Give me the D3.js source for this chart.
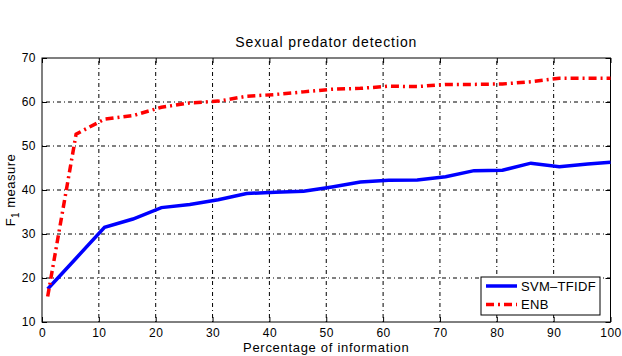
<!DOCTYPE html>
<html lang="en">
<head>
    <meta charset="UTF-8">
    <title>Sexual predator detection</title>
    <style>
        body {
            margin: 0;
            padding: 0;
            background-color: #ffffff;
            font-family: "Liberation Sans", Arial, sans-serif;
        }
        .grid line {
            stroke: #000;
            stroke-width: 1px;
            stroke-dasharray: 1, 3, 4, 3;
        }
    </style>
</head>
<body>
    <div id="chart"></div>

    <script src="https://d3js.org/d3.v7.min.js"></script>
    <script>
        // Data
        const percentages = [1, 6, 11, 16, 21, 26, 31, 36, 41, 46, 51, 56, 61, 66, 71, 76, 81, 86, 91, 96, 100];
        const svmTfidf = [17.5, 24.5, 31.5, 33.4, 36.0, 36.7, 37.8, 39.2, 39.5, 39.7, 40.7, 41.8, 42.2, 42.3, 43.0, 44.4, 44.5, 46.1, 45.3, 45.9, 46.3];
        const enb = [15.8, 52.7, 56.1, 56.9, 58.8, 59.8, 60.2, 61.3, 61.7, 62.3, 62.9, 63.1, 63.6, 63.5, 64.0, 64.0, 64.1, 64.6, 65.4, 65.4, 65.4];
        const xTicks = [0, 10, 20, 30, 40, 50, 60, 70, 80, 90, 100];
        const yTicks = [10, 20, 30, 40, 50, 60, 70];
        const seriesNames = ["SVM\u2013TFIDF", "ENB"];

        const width = 622;
        const height = 356;
        const margin = { top: 58, right: 11.5, bottom: 34, left: 42 };

        const svg = d3.select("#chart")
            .append("svg")
            .attr("width", width)
            .attr("height", height);

        const x = d3.scaleLinear().domain([0, 100]).range([margin.left, width - margin.right]);
        const y = d3.scaleLinear().domain([10, 70]).range([height - margin.bottom, margin.top]);

        // grid
        const grid = svg.append("g").attr("class", "grid");
        grid.selectAll(".vg")
            .data(xTicks.slice(1, -1))
            .enter()
            .append("line")
            .attr("x1", d => x(d)).attr("x2", d => x(d))
            .attr("y1", y(10)).attr("y2", y(70));
        grid.selectAll(".hg")
            .data(yTicks.slice(1, -1))
            .enter()
            .append("line")
            .attr("x1", x(0)).attr("x2", x(100))
            .attr("y1", d => y(d)).attr("y2", d => y(d));

        // axes (Matlab style: ticks inside, box on)
        const tickLen = 5;
        svg.append("g")
            .attr("transform", `translate(0,${y(10)})`)
            .call(d3.axisBottom(x).tickValues(xTicks).tickSizeInner(-tickLen).tickSizeOuter(0).tickPadding(6))
            .call(g => g.select(".domain").remove());
        svg.append("g")
            .attr("transform", `translate(0,${y(70)})`)
            .call(d3.axisTop(x).tickValues(xTicks).tickSizeInner(-tickLen).tickSizeOuter(0).tickFormat(""))
            .call(g => g.select(".domain").remove());
        svg.append("g")
            .attr("transform", `translate(${x(0)},0)`)
            .call(d3.axisLeft(y).tickValues(yTicks).tickSizeInner(-tickLen).tickSizeOuter(0).tickPadding(6))
            .call(g => g.select(".domain").remove());
        svg.append("g")
            .attr("transform", `translate(${x(100)},0)`)
            .call(d3.axisRight(y).tickValues(yTicks).tickSizeInner(-tickLen).tickSizeOuter(0).tickFormat(""))
            .call(g => g.select(".domain").remove());

        svg.selectAll(".tick text")
            .attr("font-size", 12)
            .attr("font-family", "Liberation Sans, Arial, sans-serif")
            .attr("letter-spacing", 0.5)
            .attr("fill", "#000");
        svg.selectAll(".tick line").attr("stroke", "#000");

        svg.append("rect")
            .attr("x", x(0)).attr("y", y(70))
            .attr("width", x(100) - x(0)).attr("height", y(10) - y(70))
            .attr("fill", "none").attr("stroke", "#000").attr("stroke-width", 1);

        // lines
        const line = d3.line()
            .x((d, i) => x(percentages[i]))
            .y(d => y(d));

        svg.append("path")
            .datum(svmTfidf)
            .attr("d", line)
            .attr("fill", "none")
            .attr("stroke", "#0000ff")
            .attr("stroke-width", 3.5);

        svg.append("path")
            .datum(enb)
            .attr("d", line)
            .attr("fill", "none")
            .attr("stroke", "#ff0000")
            .attr("stroke-width", 3.5)
            .attr("stroke-dasharray", "8,4,2,4");

        // title and labels
        svg.append("text")
            .attr("x", (x(0) + x(100)) / 2)
            .attr("y", 47)
            .attr("text-anchor", "middle")
            .attr("font-size", 14)
            .attr("letter-spacing", 0.9)
            .text("Sexual predator detection");

        svg.append("text")
            .attr("x", (x(0) + x(100)) / 2)
            .attr("y", 352)
            .attr("text-anchor", "middle")
            .attr("font-size", 13)
            .attr("letter-spacing", 0.7)
            .text("Percentage of information");

        const yl = svg.append("text")
            .attr("transform", `translate(15,${(y(10) + y(70)) / 2}) rotate(-90)`)
            .attr("text-anchor", "middle")
            .attr("font-size", 13)
            .attr("letter-spacing", 0.5);
        yl.append("tspan").text("F");
        yl.append("tspan").attr("font-size", 10).attr("dy", 4).text("1");
        yl.append("tspan").attr("dy", -4).text(" measure");

        // legend
        const legend = svg.append("g");
        legend.append("rect")
            .attr("x", 481).attr("y", 277)
            .attr("width", 119).attr("height", 38)
            .attr("fill", "#fff").attr("stroke", "#000").attr("stroke-width", 1);
        const legendStyles = [
            { color: "#0000ff", dash: null },
            { color: "#ff0000", dash: "8,4,2,4" }
        ];
        seriesNames.forEach((name, i) => {
            const ly = 286 + i * 18.5;
            legend.append("line")
                .attr("x1", 486).attr("x2", 517)
                .attr("y1", ly).attr("y2", ly)
                .attr("stroke", legendStyles[i].color)
                .attr("stroke-width", 3.5)
                .attr("stroke-dasharray", legendStyles[i].dash);
            legend.append("text")
                .attr("x", 521).attr("y", ly + 4.5)
                .attr("font-size", 13)
                .attr("letter-spacing", 0.3)
                .text(name);
        });
    </script>
</body>
</html>
